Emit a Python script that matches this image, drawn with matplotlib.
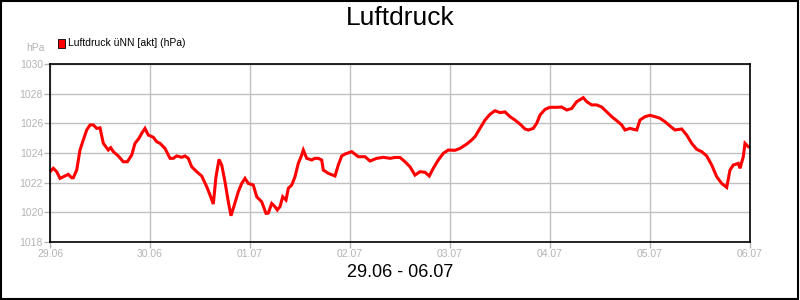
import matplotlib
matplotlib.use("Agg")
import matplotlib.pyplot as plt
from matplotlib.patches import Rectangle

plt.rcParams['font.family'] = ['Liberation Sans', 'DejaVu Sans']

# time in days since 29.06 00:00, pressure in hPa
days = [0.000, 0.033, 0.067, 0.100, 0.150, 0.183, 0.217, 0.233, 0.267, 0.300,
        0.333, 0.367, 0.400, 0.433, 0.467, 0.500, 0.533, 0.583, 0.607, 0.633,
        0.683, 0.733, 0.773, 0.817, 0.850, 0.890, 0.917, 0.950, 0.983, 1.033,
        1.067, 1.100, 1.150, 1.200, 1.233, 1.267, 1.317, 1.350, 1.383, 1.417,
        1.467, 1.517, 1.567, 1.600, 1.633, 1.660, 1.690, 1.717, 1.750, 1.783,
        1.810, 1.843, 1.883, 1.917, 1.950, 1.983, 2.033, 2.067, 2.117, 2.160,
        2.183, 2.217, 2.250, 2.273, 2.300, 2.327, 2.360, 2.383, 2.417, 2.450,
        2.483, 2.517, 2.533, 2.567, 2.617, 2.650, 2.683, 2.717, 2.733, 2.783,
        2.850, 2.883, 2.917, 2.950, 3.017, 3.083, 3.150, 3.200, 3.267, 3.333,
        3.400, 3.450, 3.500, 3.550, 3.600, 3.650, 3.700, 3.750, 3.793, 3.833,
        3.883, 3.933, 3.983, 4.050, 4.100, 4.167, 4.217, 4.250, 4.300, 4.350,
        4.400, 4.450, 4.500, 4.550, 4.600, 4.650, 4.700, 4.750, 4.783, 4.833,
        4.867, 4.900, 4.950, 5.000, 5.067, 5.117, 5.167, 5.217, 5.267, 5.333,
        5.367, 5.417, 5.467, 5.517, 5.567, 5.617, 5.667, 5.717, 5.750, 5.800,
        5.833, 5.867, 5.900, 5.950, 6.000, 6.050, 6.100, 6.150, 6.200, 6.250,
        6.317, 6.367, 6.417, 6.467, 6.517, 6.567, 6.617, 6.667, 6.717, 6.767,
        6.800, 6.833, 6.883, 6.900, 6.933, 6.950, 6.983, 7.000]
hpa = [1022.74, 1022.97, 1022.74, 1022.29, 1022.45, 1022.56, 1022.33, 1022.33, 1022.85, 1024.20,
       1024.88, 1025.55, 1025.89, 1025.89, 1025.66, 1025.70, 1024.65, 1024.20, 1024.36, 1024.09,
       1023.80, 1023.41, 1023.41, 1023.86, 1024.65, 1024.99, 1025.33, 1025.66, 1025.21, 1025.06,
       1024.76, 1024.65, 1024.31, 1023.64, 1023.64, 1023.80, 1023.71, 1023.80, 1023.64, 1023.07,
       1022.74, 1022.45, 1021.73, 1021.17, 1020.56, 1022.40, 1023.57, 1023.19, 1022.06, 1020.71,
       1019.77, 1020.49, 1021.39, 1021.95, 1022.29, 1021.95, 1021.84, 1021.05, 1020.71, 1019.93,
       1019.95, 1020.60, 1020.38, 1020.16, 1020.38, 1021.05, 1020.83, 1021.62, 1021.84, 1022.40,
       1023.30, 1023.86, 1024.20, 1023.64, 1023.53, 1023.64, 1023.64, 1023.53, 1022.85, 1022.63,
       1022.45, 1023.19, 1023.80, 1023.93, 1024.09, 1023.75, 1023.75, 1023.46, 1023.64, 1023.71,
       1023.64, 1023.70, 1023.70, 1023.41, 1023.07, 1022.51, 1022.74, 1022.70, 1022.45, 1022.97,
       1023.53, 1023.98, 1024.20, 1024.18, 1024.31, 1024.60, 1024.88, 1025.10, 1025.66, 1026.22,
       1026.61, 1026.85, 1026.72, 1026.77, 1026.45, 1026.22, 1025.95, 1025.62, 1025.55, 1025.66,
       1026.00, 1026.56, 1026.94, 1027.08, 1027.08, 1027.10, 1026.90, 1027.00, 1027.46, 1027.73,
       1027.46, 1027.24, 1027.24, 1027.10, 1026.78, 1026.45, 1026.18, 1025.89, 1025.55, 1025.66,
       1025.60, 1025.55, 1026.22, 1026.45, 1026.54, 1026.45, 1026.34, 1026.11, 1025.82, 1025.55,
       1025.62, 1025.21, 1024.65, 1024.25, 1024.09, 1023.80, 1023.19, 1022.40, 1021.95, 1021.68,
       1022.85, 1023.19, 1023.30, 1022.97, 1023.75, 1024.65, 1024.42, 1024.40]

day_labels = ["29.06", "30.06", "01.07", "02.07", "03.07", "04.07", "05.07", "06.07"]
y_ticks = [1018, 1020, 1022, 1024, 1026, 1028, 1030]

grey = "#b4b4b4"

fig = plt.figure(figsize=(8, 3), dpi=100)
ax = fig.add_axes([0.0625, 0.1933, 0.875, 0.5934])

ax.plot(days, hpa, color="#ff0000", lw=2.2, solid_joinstyle="miter")

ax.set_xlim(0, 7)
ax.set_ylim(1018, 1030)
ax.set_xticks(range(len(day_labels)))
ax.set_xticklabels(day_labels)
ax.set_yticks(y_ticks)
ax.grid(True, color="#c0c0c0", lw=1)
ax.set_axisbelow(True)
ax.tick_params(colors=grey, labelsize=7.5, length=4, width=1, pad=1)
for s in ax.spines.values():
    s.set_color("black")
    s.set_linewidth(1.2)

fig.text(0.5, 0.94, "Luftdruck", ha="center", va="center", fontsize=19)
fig.text(0.5, 0.093, "29.06 - 06.07", ha="center", va="center", fontsize=13)
fig.text(0.056, 0.84, "hPa", ha="right", va="center", fontsize=7.5, color=grey)

# legend marker and text
fig.patches.append(Rectangle((0.0725, 0.84), 0.009, 0.03, transform=fig.transFigure,
                             facecolor="#ff0000", edgecolor="black", lw=0.6))
fig.text(0.085, 0.855, "Luftdruck üNN [akt] (hPa)", ha="left", va="center", fontsize=7.5)

# outer frame
fig.patches.append(Rectangle((0.001, 0.002), 0.997, 0.995, transform=fig.transFigure,
                             fill=False, edgecolor="black", lw=1.5))

fig.savefig("out.png", dpi=100)
